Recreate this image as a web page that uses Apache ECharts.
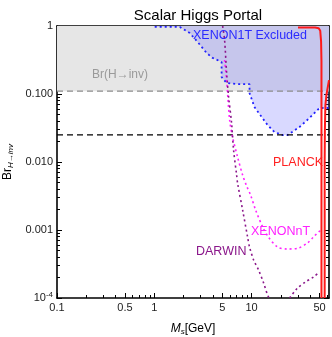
<!DOCTYPE html>
<html>
<head>
<meta charset="utf-8">
<script src="https://cdn.jsdelivr.net/npm/echarts@6/dist/echarts.min.js"></script>
<style>
html, body { margin: 0; padding: 0; background: #fff; }
#main { width: 332px; height: 337px; }
</style>
</head>
<body>
<div id="main"></div>
<script>
var dom = document.getElementById("main");
var myChart = echarts.init(dom);

// tick positions
var xMajor = [0.1, 0.5, 1, 5, 10, 50];
var xMinor = [0.2, 0.3, 0.4, 0.6, 0.7, 0.8, 0.9, 2, 3, 4, 6, 7, 8, 9, 20, 30, 40, 60];
var yMajor = [0.0001, 0.001, 0.01, 0.1, 1];
var yMinor = [0.0002, 0.0003, 0.0004, 0.0005, 0.0006, 0.0007, 0.0008, 0.0009,
    0.002, 0.003, 0.004, 0.005, 0.006, 0.007, 0.008, 0.009,
    0.02, 0.03, 0.04, 0.05, 0.06, 0.07, 0.08, 0.09,
    0.2, 0.3, 0.4, 0.5, 0.6, 0.7, 0.8, 0.9];

// Br(H->inv) limits
var brInv = 0.11;
var brFuture = 0.025;
var mRange = [0.1, 62.5];

// XENON1T excluded boundary
var x1tM  = [1.01, 1.83, 2.31, 2.79, 3.45, 3.98, 4.92, 4.92, 5.54, 7.02, 9.53, 9.53, 10.7, 12.7, 14.6, 17.2, 20.8, 23.4, 31.1, 39.4, 49.8, 56, 62.5];
var x1tBr = [0.97, 0.97, 0.789, 0.582, 0.401, 0.339, 0.296, 0.178, 0.145, 0.140, 0.140, 0.103, 0.0644, 0.0459, 0.035, 0.0276, 0.0249, 0.0249, 0.0327, 0.0444, 0.0622, 0.0622, 0.0622];

// XENONnT projection
var xntM  = [5.28, 5.54, 5.95, 6.38, 7.18, 8.09, 8.89, 9.77, 11.0, 13.0, 14.9, 18.5, 23.4, 30.3, 37.5, 43.3, 51.0, 53.5];
var xntBr = [0.316, 0.161, 0.0415, 0.0233, 0.0118, 0.00644, 0.00444, 0.00327, 0.00197, 0.00111, 0.000789, 0.000562, 0.000526, 0.000543, 0.000644, 0.000789, 0.000967, 0.00097];

// DARWIN projection
var dwM  = [5.04, 5.28, 5.54, 5.81, 6.23, 6.53, 7.02, 7.18, 8.09, 9.10, 9.53, 10.5, 11.8, 13.3, 14.9, 17.2, 21.8, 25.1, 29.6, 35.8, 43.3, 49.8];
var dwBr = [1.0, 0.622, 0.204, 0.0903, 0.0375, 0.015, 0.00644, 0.00491, 0.00197, 0.000789, 0.000562, 0.000362, 0.000258, 0.000166, 0.000104, 0.00008, 0.00008, 0.000104, 0.00014, 0.000172, 0.000204, 0.000241];

// PLANCK (two branches)
var pl1M  = [30, 45, 49, 50.8, 51.8, 52.3, 52.3];
var pl1Br = [0.95, 0.95, 0.93, 0.85, 0.6, 0.3, 0.0001];
var pl2M  = [62.5, 58.8, 57.4, 56.7, 56.4, 56.4];
var pl2Br = [0.16, 0.0966, 0.0689, 0.0296, 0.01, 0.0001];

function pairs(a, b) {
    var d = [];
    for (var i = 0; i < a.length; i++) d.push([a[i], b[i]]);
    return d;
}

var font = 'Liberation Sans, Arial, sans-serif';

function yfmt(v) {
    if (v >= 0.5) return '1';
    if (v < 0.0005) return '10{s|-4}';
    return v.toFixed(3);
}

function xAx(pos, ticks, len, labels, line) {
    return {
        type: 'log', logBase: 10, min: mRange[0], max: mRange[1], position: pos,
        axisLine: { show: line, onZero: false, lineStyle: { color: '#000', width: 1.6 } },
        axisTick: { show: true, inside: true, length: len, customValues: ticks, lineStyle: { color: '#000', width: 1 } },
        axisLabel: { show: labels, customValues: xMajor, margin: 4, color: '#222', fontSize: 11, fontFamily: font,
            formatter: function (v) { return String(v); } },
        splitLine: { show: false },
        minorTick: { show: false },
        name: labels ? '{m|M}{s|s}{n|[GeV]}' : '',
        nameLocation: 'middle', nameGap: 24,
        nameTextStyle: { rich: {
            m: { fontSize: 12, fontStyle: 'italic', fontFamily: font, color: '#000' },
            s: { fontSize: 8, fontStyle: 'italic', fontFamily: font, color: '#000', padding: [6, 0, 0, 0] },
            n: { fontSize: 12, fontFamily: font, color: '#000' }
        } }
    };
}

function yAx(pos, ticks, len, labels, line) {
    return {
        type: 'log', logBase: 10, min: 0.0001, max: 1, position: pos,
        axisLine: { show: line, onZero: false, lineStyle: { color: '#000', width: 1.6 } },
        axisTick: { show: true, inside: true, length: len, customValues: ticks, lineStyle: { color: '#000', width: 1 } },
        axisLabel: { show: labels, customValues: yMajor, margin: 4, color: '#222', fontSize: 11, fontFamily: font,
            formatter: yfmt, rich: { s: { fontSize: 8, fontFamily: font, color: '#222', padding: [0, 0, 6, 0] } } },
        splitLine: { show: false },
        minorTick: { show: false },
        name: labels ? '{a|Br}{b|H\u2192inv}' : '',
        nameLocation: 'middle', nameGap: 33, nameRotate: 90,
        nameTextStyle: { rich: {
            a: { fontSize: 12, fontFamily: font, color: '#000' },
            b: { fontSize: 8, fontStyle: 'italic', fontFamily: font, color: '#000', padding: [6, 0, 0, 0] }
        } }
    };
}

var option = {
    animation: false,
    backgroundColor: '#fff',
    title: {
        text: 'Scalar Higgs Portal',
        left: 193, top: 3, textAlign: 'center',
        textStyle: { fontSize: 15, fontWeight: 'normal', color: '#000', fontFamily: font }
    },
    grid: { left: 57, right: 3, top: 26, bottom: 39, outerBoundsMode: 'none' },
    xAxis: [
        xAx('bottom', xMajor, 5, true, true),
        xAx('bottom', xMinor, 3, false, false),
        xAx('top', xMajor, 5, false, true),
        xAx('top', xMinor, 3, false, false)
    ],
    yAxis: [
        yAx('left', yMajor, 5, true, true),
        yAx('left', yMinor, 3, false, false),
        yAx('right', yMajor, 5, false, true),
        yAx('right', yMinor, 3, false, false)
    ],
    series: [
        {   // Br(H->inv) excluded (gray)
            type: 'line', symbol: 'none', silent: true,
            data: [[mRange[0], brInv], [mRange[1], brInv]],
            lineStyle: { width: 0 },
            areaStyle: { origin: 'end', color: '#e6e6e6', opacity: 1 }
        },
        {   // XENON1T excluded
            type: 'line', symbol: 'none', silent: true,
            data: pairs(x1tM, x1tBr),
            lineStyle: { color: '#2222ff', width: 1.8, type: [2, 3] },
            areaStyle: { origin: 'end', color: 'rgba(100,100,255,0.35)' }
        },
        {
            type: 'line', symbol: 'none', silent: true,
            data: [[mRange[0], brInv], [mRange[1], brInv]],
            lineStyle: { color: '#8c8c8c', width: 1.2, type: [6, 4] }
        },
        {
            type: 'line', symbol: 'none', silent: true,
            data: [[mRange[0], brFuture], [mRange[1], brFuture]],
            lineStyle: { color: '#000', width: 1.2, type: [6, 4] }
        },
        {   // XENONnT
            type: 'line', symbol: 'none', silent: true, smooth: 0.3,
            data: pairs(xntM, xntBr),
            lineStyle: { color: '#ff22ff', width: 1.6, type: [2, 3] }
        },
        {   // DARWIN
            type: 'line', symbol: 'none', silent: true, smooth: 0.3,
            data: pairs(dwM, dwBr),
            lineStyle: { color: '#8a168a', width: 1.6, type: [2, 3] }
        },
        {   // PLANCK
            type: 'line', symbol: 'none', silent: true,
            data: pairs(pl1M, pl1Br),
            lineStyle: { color: '#ff1a1a', width: 2 }
        },
        {
            type: 'line', symbol: 'none', silent: true,
            data: pairs(pl2M, pl2Br),
            lineStyle: { color: '#ff1a1a', width: 2 }
        }
    ],
    graphic: [
        { type: 'text', left: 92, top: 69, z: 100, style: { text: 'Br(H\u2192inv)', fill: '#9a9a9a', font: '12px ' + font } },
        { type: 'text', left: 193, top: 29, z: 100, style: { text: 'XENON1T Excluded', fill: '#2b2bff', font: '12.5px ' + font } },
        { type: 'text', left: 273, top: 156, z: 100, style: { text: 'PLANCK', fill: '#ff2020', font: '12.5px ' + font } },
        { type: 'text', left: 251, top: 225, z: 100, style: { text: 'XENONnT', fill: '#ff22ff', font: '12.5px ' + font } },
        { type: 'text', left: 196, top: 245, z: 100, style: { text: 'DARWIN', fill: '#8a168a', font: '12.5px ' + font } }
    ]
};

myChart.setOption(option);
</script>
</body>
</html>
